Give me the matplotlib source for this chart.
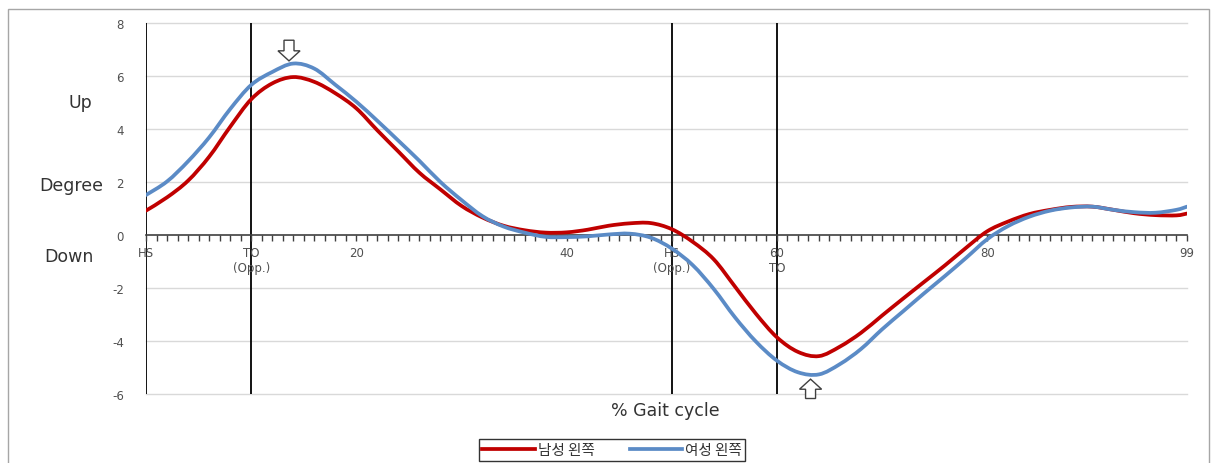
import matplotlib
matplotlib.use("Agg")
import numpy as np
import matplotlib.pyplot as plt
from matplotlib.patches import FancyArrow, Rectangle, PathPatch
from matplotlib.path import Path
from matplotlib.lines import Line2D
from matplotlib.ticker import MultipleLocator

plt.rcParams['font.family'] = ['DejaVu Sans', 'Noto Sans CJK KR']

# ---- data ----
gait_pct = [0, 2, 4, 6, 8, 10, 12, 14, 16, 18, 20, 22, 24, 26, 28, 30, 32, 34, 36, 38,
            40, 42, 44, 46, 48, 50, 52, 54, 56, 58, 60, 62, 64, 66, 68, 70, 72, 74, 76, 78,
            80, 82, 84, 86, 88, 90, 92, 94, 96, 98, 99]
male_left = [0.92, 1.42, 2.05, 2.95, 4.08, 5.12, 5.72, 5.96, 5.78, 5.35, 4.78, 3.95, 3.15, 2.35, 1.72, 1.1, 0.66, 0.35, 0.18, 0.09,
             0.1, 0.2, 0.35, 0.44, 0.45, 0.22, -0.26, -0.92, -1.94, -2.97, -3.86, -4.41, -4.57, -4.21, -3.69, -3.04, -2.4, -1.77, -1.14, -0.48,
             0.14, 0.51, 0.79, 0.95, 1.06, 1.07, 0.95, 0.82, 0.75, 0.74, 0.81]
female_left = [1.51, 2.02, 2.78, 3.68, 4.75, 5.66, 6.15, 6.47, 6.28, 5.67, 5.03, 4.31, 3.56, 2.8, 2.0, 1.32, 0.71, 0.32, 0.09, -0.07,
               -0.08, -0.05, 0.02, 0.05, -0.1, -0.51, -1.14, -2.04, -3.1, -4.02, -4.74, -5.18, -5.26, -4.87, -4.3, -3.56, -2.88, -2.2, -1.54, -0.86,
               -0.16, 0.34, 0.69, 0.92, 1.04, 1.07, 0.95, 0.86, 0.84, 0.95, 1.07]
series_names = ['남성 왼쪽', '여성 왼쪽']
event_lines = [10, 50, 60]
xtick_pos = [0, 10, 20, 40, 50, 60, 80, 99]
xtick_labels = ['HS', 'TO\n(Opp.)', '20', '40', 'HS\n(Opp.)', '60\nTO', '80', '99']
ytick_pos = [-6, -4, -2, 0, 2, 4, 6, 8]

RED = '#C00000'
BLUE = '#5B8BC6'


def smoothed_path(xs, ys):
    """Excel-style smoothed line: cubic Bezier through the given points."""
    pts = np.column_stack([xs, ys]).astype(float)
    n = len(pts)
    verts = [pts[0]]
    codes = [Path.MOVETO]
    for i in range(n - 1):
        p0 = pts[i - 1] if i > 0 else pts[i]
        p1 = pts[i]
        p2 = pts[i + 1]
        p3 = pts[i + 2] if i + 2 < n else pts[i + 1]
        c1 = p1 + (p2 - p0) / 6.0
        c2 = p2 - (p3 - p1) / 6.0
        verts += [c1, c2, p2]
        codes += [Path.CURVE4] * 3
    return Path(verts, codes)


W, H = 1216, 464
fig = plt.figure(figsize=(W / 100, H / 100), dpi=100)
ax = fig.add_axes([146 / W, 1 - 395 / H, 1041 / W, 371 / H])

ax.set_xlim(0, 99)
ax.set_ylim(-6, 8)

# gridlines
for yv in ytick_pos:
    if yv != 0:
        ax.axhline(yv, color='#D9D9D9', lw=1, zorder=0, clip_on=False)

# event lines
ax.axvline(0, color='black', lw=1.3, zorder=1)
for xv in event_lines:
    ax.axvline(xv, color='black', lw=1.3, zorder=1)

for ys, col in [(male_left, RED), (female_left, BLUE)]:
    ax.add_patch(PathPatch(smoothed_path(gait_pct, ys), fill=False, edgecolor=col,
                           lw=2.7, zorder=3, joinstyle='round', capstyle='round'))

for s in ['top', 'right', 'left']:
    ax.spines[s].set_visible(False)
ax.spines['bottom'].set_position(('data', 0))
ax.spines['bottom'].set_color('#404040')
ax.spines['bottom'].set_linewidth(1.2)

ax.set_xticks(xtick_pos)
ax.set_xticklabels(xtick_labels, fontsize=8.5, color='#505050', linespacing=1.2)
ax.xaxis.set_minor_locator(MultipleLocator(1))
ax.tick_params(axis='x', which='both', direction='out', length=4, width=1, color='#404040', pad=4)

ax.set_yticks(ytick_pos)
ax.set_yticklabels([str(v) for v in ytick_pos], fontsize=8.5, color='#505050')
ax.tick_params(axis='y', length=0, pad=16)

# side texts
big = dict(fontsize=12.5, color='#333333', ha='center', va='center')
fig.text(80 / W, 1 - 103 / H, 'Up', **big)
fig.text(71 / W, 1 - 186 / H, 'Degree', **big)
fig.text(69 / W, 1 - 257 / H, 'Down', **big)
fig.text(665 / W, 1 - 411 / H, '% Gait cycle', **big)

# hollow arrows
ax.add_patch(FancyArrow(13.6, 7.35, 0, -0.78, width=0.95, head_width=2.1, head_length=0.38,
                        length_includes_head=True, facecolor='white', edgecolor='#404040',
                        lw=1, zorder=4, clip_on=False))
ax.add_patch(FancyArrow(63.2, -6.17, 0, 0.73, width=0.95, head_width=2.1, head_length=0.38,
                        length_includes_head=True, facecolor='white', edgecolor='#404040',
                        lw=1, zorder=4, clip_on=False))

handles = [Line2D([], [], color=RED, lw=2.7), Line2D([], [], color=BLUE, lw=2.7)]
leg = fig.legend(handles, series_names, loc='center', bbox_to_anchor=(612 / W, 1 - 451 / H), ncol=2,
                 prop={'family': ['Noto Sans CJK KR', 'DejaVu Sans'], 'size': 10.5},
                 frameon=True, fancybox=False, edgecolor='black', handlelength=3.6,
                 handletextpad=0.2, columnspacing=2.4, borderpad=0.25, borderaxespad=0)
leg.get_frame().set_linewidth(1)
for t in leg.get_texts():
    t.set_color('#333333')

# outer border
fig.patches.append(Rectangle((8 / W, -0.05), 1201 / W, 1 - 10 / H + 0.05, transform=fig.transFigure,
                             fill=False, edgecolor='#A6A6A6', lw=1))

fig.savefig('out.png', dpi=100)
